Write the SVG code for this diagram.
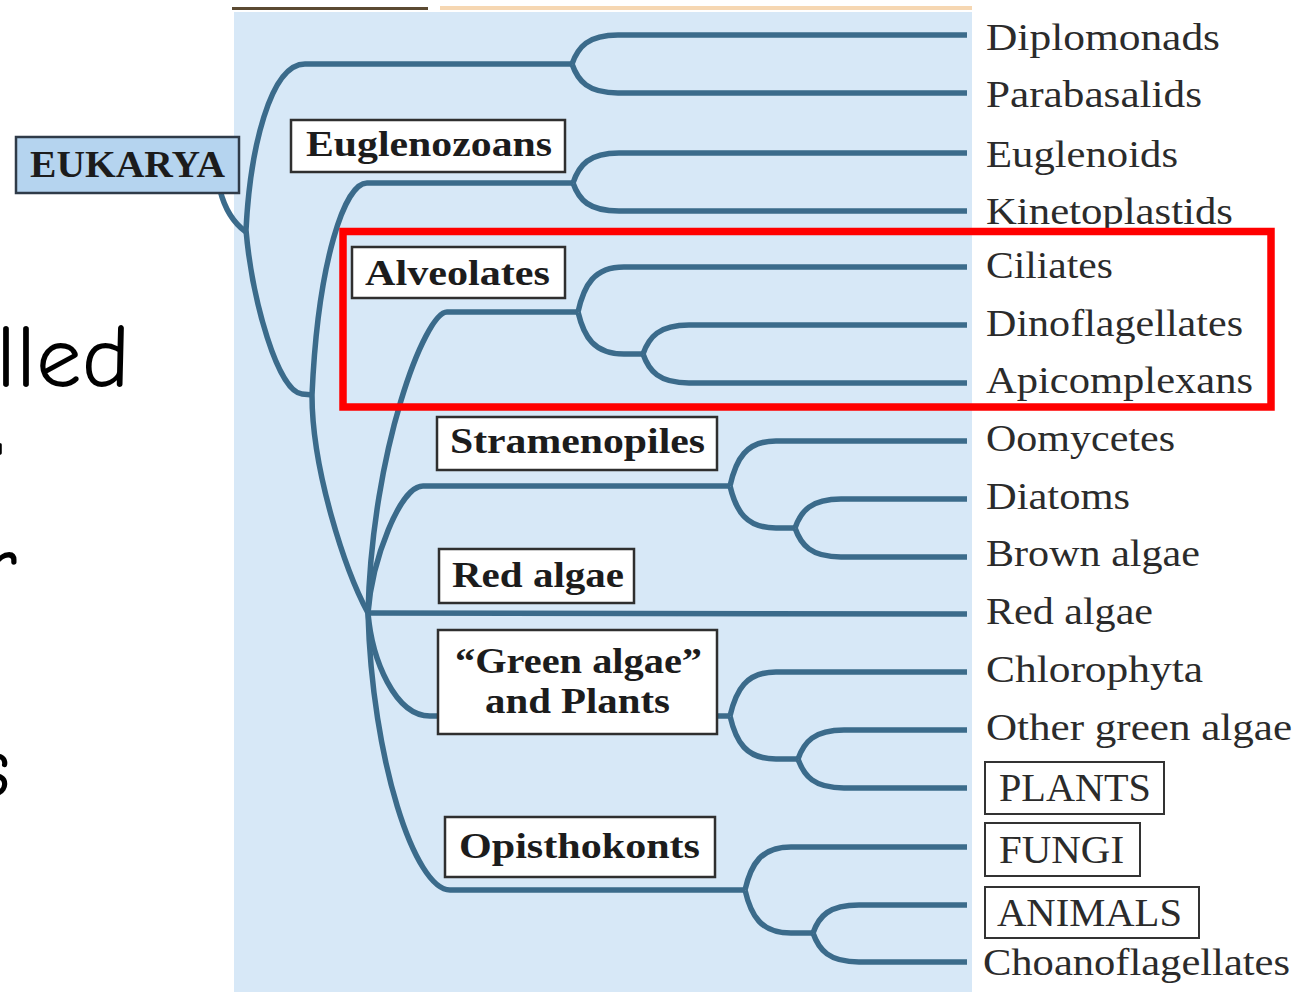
<svg xmlns="http://www.w3.org/2000/svg" width="1312" height="992" viewBox="0 0 1312 992">
<style>
.br{fill:none;stroke:#3b6b8b;stroke-width:5.5;stroke-linecap:butt;stroke-linejoin:round}
.box{fill:#ffffff;stroke:#2f2f2f;stroke-width:2.5}
.bl{font-family:"Liberation Serif","Times New Roman",serif;font-weight:bold;font-size:36px;fill:#1c1c1c}
.lf{font-family:"Liberation Serif","Times New Roman",serif;font-size:37px;fill:#2b2b2b}
.cap{font-family:"Liberation Serif","Times New Roman",serif;font-size:39px;fill:#2b2b2b}
.hand{font-family:"Comic Neue","DejaVu Sans",sans-serif;font-size:88px;fill:#000}
</style>
<rect x="0" y="0" width="1312" height="992" fill="#ffffff"/>
<g id="slide-text">
<text class="hand" x="-4" y="387" textLength="134" lengthAdjust="spacingAndGlyphs">lled</text>
<text class="hand" x="-6" y="484" style="font-size:60px">'</text>
<text class="hand" x="-18" y="596">r</text>
<text class="hand" x="-26" y="797">s</text>
</g>
<g id="panel">
<rect x="234" y="12" width="738" height="980" fill="#d7e8f7"/>
<rect x="232" y="7" width="196" height="3" fill="#5b4a32"/>
<rect x="440" y="6" width="532" height="4" fill="#f6d7b2"/>
</g>
<g id="connectors">
<path class="br" d="M220,190 C225,210 235,224 246,232"/>
<path class="br" d="M572,64 L305,64 C270,64 250,150 246,230 C252,300 278,392 302,394 L313,395"/>
<path class="br" d="M573,183 L367,183 C345,183 318,260 312,395 C312,470 345,570 368,613"/>
<path class="br" d="M578,312 L447,312 C425,312 372,450 368,613"/>
<path class="br" d="M730,486 L423,486 C400,486 372,560 368,613"/>
<path class="br" d="M368,613 L967,614"/>
<path class="br" d="M368,613 C372,660 395,716 430,716 L730,716"/>
<path class="br" d="M368,613 C372,760 415,890 450,890 L745,890"/>
<path class="br" d="M572,64 C578,47 588,35 618,35 L967,35 M572,64 C578,81 588,93 618,93 L967,93"/>
<path class="br" d="M573,183 C579,165 589,153 619,153 L967,153 M573,183 C579,200 589,211 619,211 L967,211"/>
<path class="br" d="M578,312 C584,285 594,267 624,267 L967,267 M578,312 C584,337 594,354 624,354 L643,354"/>
<path class="br" d="M643,354 C649,337 659,325 689,325 L967,325 M643,354 C649,371 659,383 689,383 L967,383"/>
<path class="br" d="M730,486 C736,459 746,441 776,441 L967,441 M730,486 C736,511 746,528 776,528 L795,528"/>
<path class="br" d="M795,528 C801,511 811,499 841,499 L967,499 M795,528 C801,545 811,557 841,557 L967,557"/>
<path class="br" d="M730,716 C736,690 746,672 776,672 L967,672 M730,716 C736,742 746,759 776,759 L798,759"/>
<path class="br" d="M798,759 C804,742 814,730 844,730 L967,730 M798,759 C804,776 814,788 844,788 L967,788"/>
<path class="br" d="M745,890 C751,864 761,847 791,847 L967,847 M745,890 C751,916 761,933 791,933 L813,933"/>
<path class="br" d="M813,933 C819,916 829,905 859,905 L967,905 M813,933 C819,950 829,962 859,962 L967,962"/>
</g>
<g id="eukarya">
<rect x="16" y="137" width="223" height="56" fill="#b5d4ef" stroke="#2f3b48" stroke-width="2.5"/>
<text class="bl" x="30" y="177" style="font-size:38px" textLength="195" lengthAdjust="spacingAndGlyphs">EUKARYA</text>
</g>
<g id="euglenozoans">
<rect class="box" x="291" y="120" width="274" height="52"/>
<text class="bl" x="306" y="156" textLength="246" lengthAdjust="spacingAndGlyphs">Euglenozoans</text>
</g>
<g id="alveolates">
<rect class="box" x="352" y="247" width="213" height="51"/>
<text class="bl" x="365" y="285" textLength="185" lengthAdjust="spacingAndGlyphs">Alveolates</text>
</g>
<g id="stramenopiles">
<rect class="box" x="437" y="417" width="280" height="53"/>
<text class="bl" x="450" y="453" textLength="255" lengthAdjust="spacingAndGlyphs">Stramenopiles</text>
</g>
<g id="red-algae-group">
<rect class="box" x="439" y="549" width="195" height="54"/>
<text class="bl" x="452" y="587" textLength="172" lengthAdjust="spacingAndGlyphs">Red algae</text>
</g>
<g id="green-algae-plants">
<rect class="box" x="438" y="630" width="279" height="104"/>
<text class="bl" x="455" y="673" textLength="247" lengthAdjust="spacingAndGlyphs">“Green algae”</text>
<text class="bl" x="485" y="713" textLength="185" lengthAdjust="spacingAndGlyphs">and Plants</text>
</g>
<g id="opisthokonts">
<rect class="box" x="445" y="817" width="270" height="60"/>
<text class="bl" x="459" y="858" textLength="241" lengthAdjust="spacingAndGlyphs">Opisthokonts</text>
</g>
<g id="leaves">
<text class="lf" x="986" y="50" textLength="234" lengthAdjust="spacingAndGlyphs">Diplomonads</text>
<text class="lf" x="986" y="107" textLength="216" lengthAdjust="spacingAndGlyphs">Parabasalids</text>
<text class="lf" x="986" y="167" textLength="192" lengthAdjust="spacingAndGlyphs">Euglenoids</text>
<text class="lf" x="986" y="224" textLength="247" lengthAdjust="spacingAndGlyphs">Kinetoplastids</text>
<text class="lf" x="986" y="278" textLength="127" lengthAdjust="spacingAndGlyphs">Ciliates</text>
<text class="lf" x="986" y="336" textLength="257" lengthAdjust="spacingAndGlyphs">Dinoflagellates</text>
<text class="lf" x="986" y="393" textLength="267" lengthAdjust="spacingAndGlyphs">Apicomplexans</text>
<text class="lf" x="986" y="451" textLength="189" lengthAdjust="spacingAndGlyphs">Oomycetes</text>
<text class="lf" x="986" y="509" textLength="144" lengthAdjust="spacingAndGlyphs">Diatoms</text>
<text class="lf" x="986" y="566" textLength="214" lengthAdjust="spacingAndGlyphs">Brown algae</text>
<text class="lf" x="986" y="624" textLength="167" lengthAdjust="spacingAndGlyphs">Red algae</text>
<text class="lf" x="986" y="682" textLength="217" lengthAdjust="spacingAndGlyphs">Chlorophyta</text>
<text class="lf" x="986" y="740" textLength="306" lengthAdjust="spacingAndGlyphs">Other green algae</text>
<text class="lf" x="983" y="975" textLength="307" lengthAdjust="spacingAndGlyphs">Choanoflagellates</text>
</g>
<g id="plants">
<rect x="985" y="762" width="179" height="52" fill="none" stroke="#333" stroke-width="2"/>
<text class="cap" x="999" y="801" textLength="152" lengthAdjust="spacingAndGlyphs">PLANTS</text>
</g>
<g id="fungi">
<rect x="985" y="823" width="155" height="53" fill="none" stroke="#333" stroke-width="2"/>
<text class="cap" x="999" y="863" textLength="125" lengthAdjust="spacingAndGlyphs">FUNGI</text>
</g>
<g id="animals">
<rect x="985" y="887" width="214" height="51" fill="none" stroke="#333" stroke-width="2"/>
<text class="cap" x="997" y="926" textLength="185" lengthAdjust="spacingAndGlyphs">ANIMALS</text>
</g>
<g id="highlight">
<rect x="343" y="231.5" width="928" height="175.5" fill="none" stroke="#ff0000" stroke-width="7.5"/>
</g>
</svg>
